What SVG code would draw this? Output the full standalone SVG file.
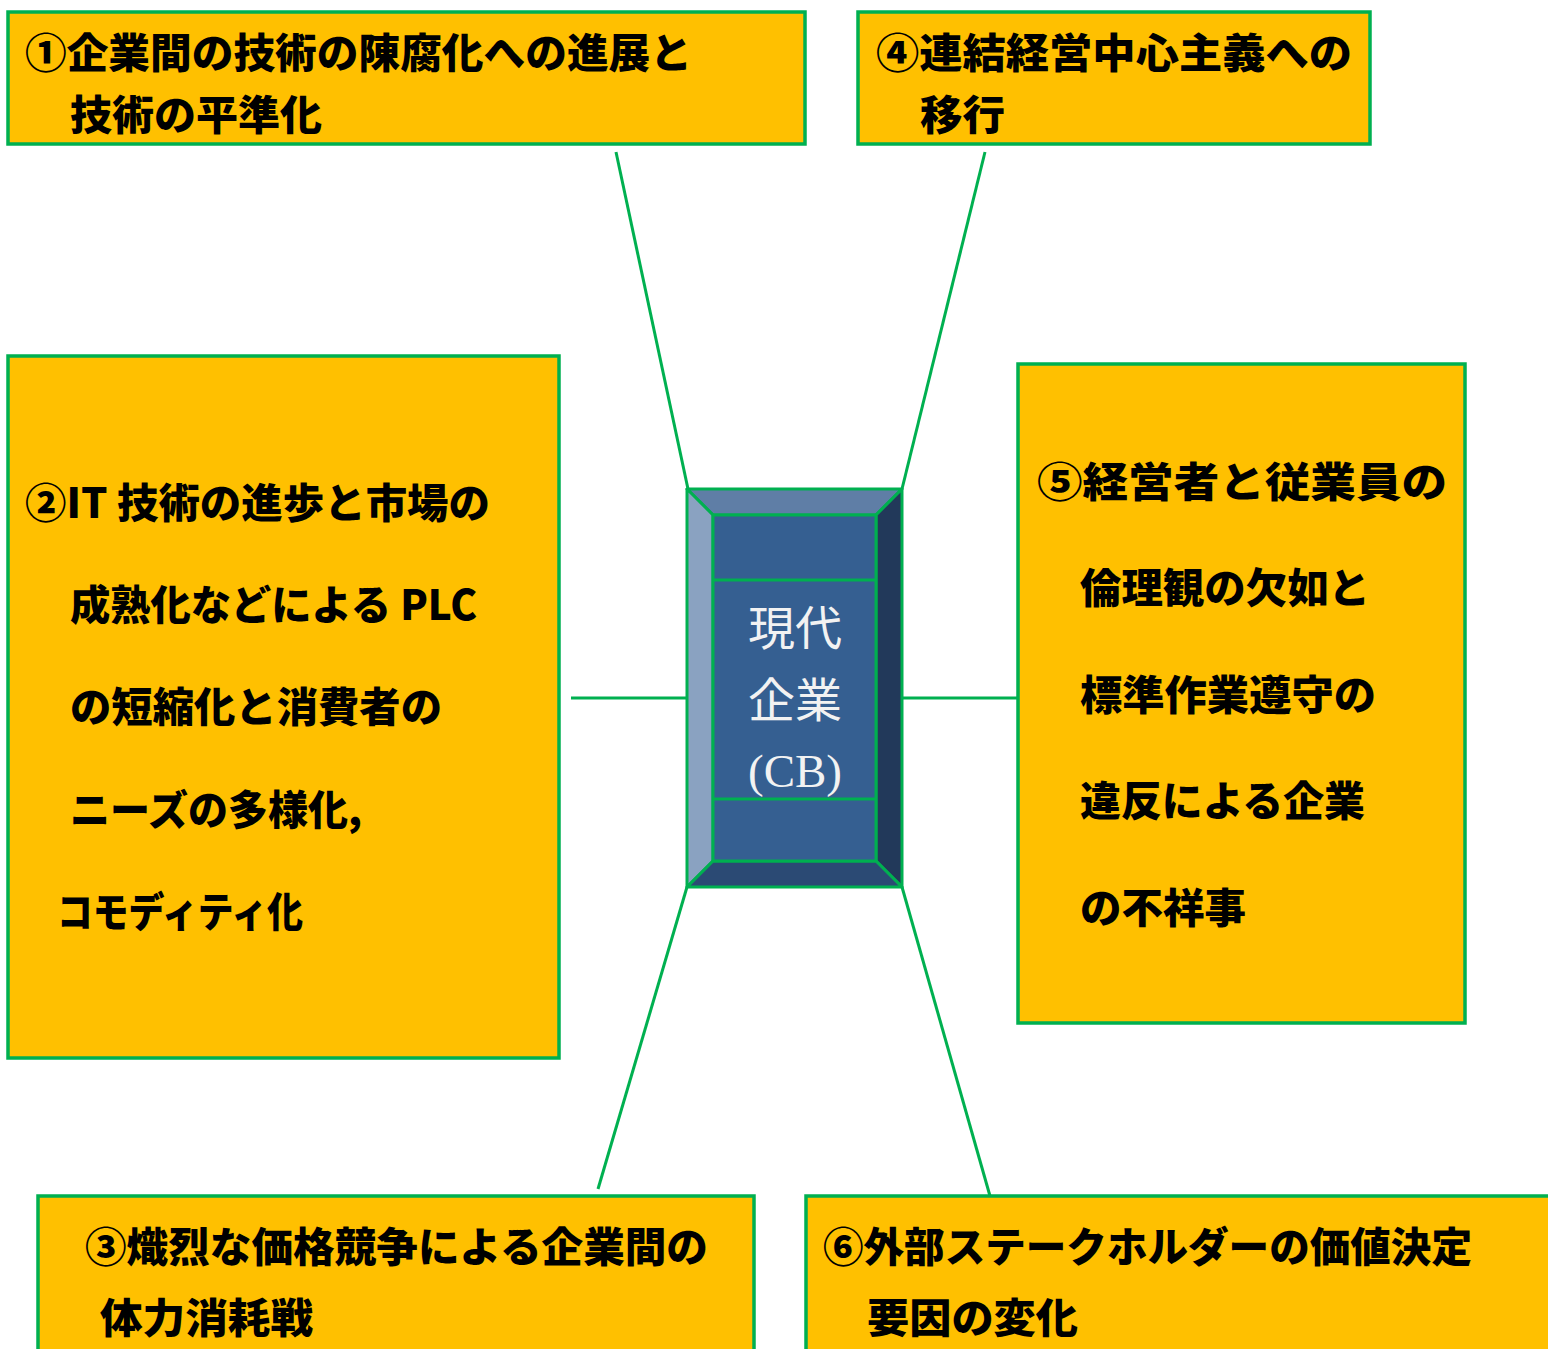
<svg xmlns="http://www.w3.org/2000/svg" width="1548" height="1349" viewBox="0 0 1548 1349">
<style>
.box{fill:#ffc000;stroke:#00b050;stroke-width:3.5}
.t{font-family:"Noto Sans CJK JP","Noto Sans",sans-serif;font-weight:900;font-size:41px;fill:#000}
.c{font-family:"Liberation Serif","Noto Sans CJK JP",serif;font-size:47px;fill:#f2f2f2;text-anchor:middle}
.ln{stroke:#00b050;stroke-width:3;fill:none}
.bv{stroke:#00b050;stroke-width:3;stroke-linejoin:round}
</style>
<rect width="1548" height="1349" fill="#fff"/>
<g id="connectors">
<line class="ln" x1="616" y1="152" x2="688" y2="489"/>
<line class="ln" x1="985" y1="152" x2="902" y2="489"/>
<line class="ln" x1="571" y1="698" x2="687" y2="698"/>
<line class="ln" x1="902" y1="698" x2="1018" y2="698"/>
<line class="ln" x1="687" y1="887" x2="598" y2="1189"/>
<line class="ln" x1="902" y1="887" x2="990" y2="1196"/>
</g>
<g id="node1">
<rect class="box" x="8" y="12" width="797" height="132"/>
<text class="t" x="25" y="68" textLength="667" lengthAdjust="spacingAndGlyphs">①企業間の技術の陳腐化への進展と</text>
<text class="t" x="70" y="130" textLength="252" lengthAdjust="spacingAndGlyphs">技術の平準化</text>
</g>
<g id="node4">
<rect class="box" x="858" y="12" width="512" height="132"/>
<text class="t" x="876" y="68" textLength="476" lengthAdjust="spacingAndGlyphs">④連結経営中心主義への</text>
<text class="t" x="920" y="130" textLength="85" lengthAdjust="spacingAndGlyphs">移行</text>
</g>
<g id="node2">
<rect class="box" x="8" y="356" width="551" height="702"/>
<text class="t" x="25" y="518" textLength="465" lengthAdjust="spacingAndGlyphs">②IT 技術の進歩と市場の</text>
<text class="t" x="70" y="620" textLength="407" lengthAdjust="spacingAndGlyphs">成熟化などによる PLC</text>
<text class="t" x="70" y="722" textLength="372" lengthAdjust="spacingAndGlyphs">の短縮化と消費者の</text>
<text class="t" x="70" y="825" textLength="292" lengthAdjust="spacingAndGlyphs">ニーズの多様化,</text>
<text class="t" x="57" y="927" textLength="246" lengthAdjust="spacingAndGlyphs">コモディティ化</text>
</g>
<g id="node5">
<rect class="box" x="1018" y="364" width="447" height="659"/>
<text class="t" x="1037" y="497" textLength="410" lengthAdjust="spacingAndGlyphs">⑤経営者と従業員の</text>
<text class="t" x="1080" y="603" textLength="290" lengthAdjust="spacingAndGlyphs">倫理観の欠如と</text>
<text class="t" x="1080" y="710" textLength="296" lengthAdjust="spacingAndGlyphs">標準作業遵守の</text>
<text class="t" x="1080" y="816" textLength="285" lengthAdjust="spacingAndGlyphs">違反による企業</text>
<text class="t" x="1080" y="923" textLength="166" lengthAdjust="spacingAndGlyphs">の不祥事</text>
</g>
<g id="node3">
<rect class="box" x="38" y="1196" width="716" height="170"/>
<text class="t" x="85" y="1262" textLength="623" lengthAdjust="spacingAndGlyphs">③熾烈な価格競争による企業間の</text>
<text class="t" x="100" y="1333" textLength="213" lengthAdjust="spacingAndGlyphs">体力消耗戦</text>
</g>
<g id="node6">
<rect class="box" x="806" y="1196" width="760" height="170"/>
<text class="t" x="823" y="1262" textLength="649" lengthAdjust="spacingAndGlyphs">⑥外部ステークホルダーの価値決定</text>
<text class="t" x="867" y="1333" textLength="211" lengthAdjust="spacingAndGlyphs">要因の変化</text>
</g>
<g id="center">
<polygon class="bv" fill="#5f7ea6" points="687,489 902,489 876,515 713,515"/>
<polygon class="bv" fill="#8aa2c1" points="687,489 713,515 713,861 687,887"/>
<polygon class="bv" fill="#22395a" points="902,489 902,887 876,861 876,515"/>
<polygon class="bv" fill="#2b4a74" points="687,887 713,861 876,861 902,887"/>
<rect class="bv" fill="#355f91" x="713" y="515" width="163" height="346"/>
<line class="ln" x1="713" y1="580" x2="876" y2="580"/>
<line class="ln" x1="713" y1="799" x2="876" y2="799"/>
<text class="c" x="795" y="645">現代</text>
<text class="c" x="795" y="717">企業</text>
<text class="c" x="795" y="787">(CB)</text>
</g>
</svg>
